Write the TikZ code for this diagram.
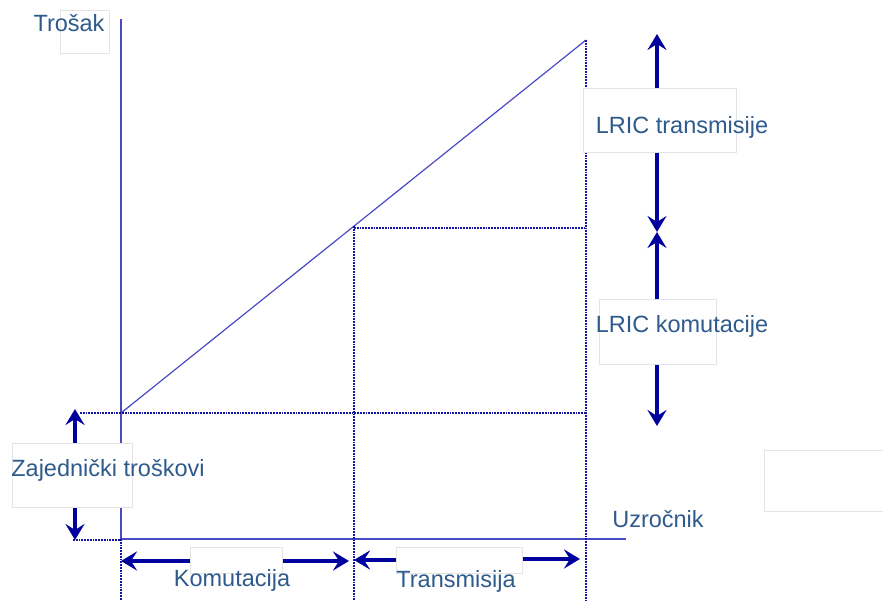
\documentclass[tikz,border=0pt]{standalone}
\usepackage{fontspec}
\setmainfont{Liberation Sans}
\usetikzlibrary{arrows.meta}
\definecolor{axisblue}{HTML}{4A4AC4}
\definecolor{dotblue}{HTML}{1414A4}
\definecolor{arrblue}{HTML}{00009C}
\definecolor{txtblue}{HTML}{2E5A8C}
\definecolor{boxgray}{HTML}{E4E4E4}
\tikzset{
  axisline/.style={axisblue, line width=1.2pt},
  dotline/.style={dotblue, line width=1.8pt, dash pattern=on 1.8pt off 1pt},
  bigarrow/.style={arrblue, line width=3.6pt, -{Stealth[length=16pt,width=19pt,inset=6pt]}},
  labelbox/.style={draw=boxgray, fill=white, line width=0.6pt, inner sep=0pt, anchor=north west},
  lbl/.style={txtblue, font=\fontsize{23.5}{27}\selectfont, inner sep=0pt, anchor=center}
}
\begin{document}
\begin{tikzpicture}[x=1pt,y=-1pt]
\useasboundingbox (0,0) rectangle (883,601);
% key coordinates
\coordinate (ytop) at (121,19);
\coordinate (orig) at (121,539);
\coordinate (xend) at (626,539);
\coordinate (fix) at (121,413);
\coordinate (mid) at (354,226);
\coordinate (top) at (586,40);
% axes
\draw[axisline] (ytop) -- (orig) -- (xend);
\draw[axisline] (fix) -- (top);
% dotted guides
\draw[dotline] (top) -- (586,601);
\draw[dotline] (mid) -- (354,601);
\draw[dotline] (354,228) -- (586,228);
\draw[dotline] (80,413) -- (586,413);
\draw[dotline] (73,540) -- (121,540);
\draw[dotline] (orig) -- (121,601);
% label boxes
\node[labelbox, minimum width=49pt, minimum height=43pt] (bTro) at (60,10) {};
\node[labelbox, minimum width=120pt, minimum height=64pt] (bZaj) at (12,443) {};
\node[labelbox, minimum width=153pt, minimum height=64pt] (bTrans) at (583,88) {};
\node[labelbox, minimum width=117pt, minimum height=65pt] (bKom) at (599,299) {};
\node[labelbox, minimum width=130pt, minimum height=61pt] (bEmpty) at (764,450) {};
\node[labelbox, minimum width=92pt, minimum height=26pt] (bK) at (190,547) {};
\node[labelbox, minimum width=126pt, minimum height=26pt] (bT) at (396,547) {};
% arrow end points
\coordinate (zTop) at (75,409);
\coordinate (zBot) at (75,540);
\coordinate (kL) at (121,561);
\coordinate (kR) at (349,561);
\coordinate (tL) at (354,560);
\coordinate (tR) at (580,559);
\coordinate (rTop) at (657,34);
\coordinate (rMid) at (657,232);
\coordinate (rBot) at (657,426);
% arrows
\draw[bigarrow] (zTop |- bZaj.north) -- (zTop);
\draw[bigarrow] (zBot |- bZaj.south) -- (zBot);
\draw[bigarrow] (bK.west |- kL) -- (kL);
\draw[bigarrow] (bK.east |- kR) -- (kR);
\draw[bigarrow] (bT.west |- tL) -- (tL);
\draw[bigarrow] (bT.east |- tR) -- (tR);
\draw[bigarrow] (rTop |- bTrans.north) -- (rTop);
\draw[bigarrow] (rMid |- bTrans.south) -- (rMid);
\draw[bigarrow] (rMid |- bKom.north) -- (rMid);
\draw[bigarrow] (rBot |- bKom.south) -- (rBot);
% texts
\node[lbl] (tTro) at (69,23) {Trošak};
\node[lbl] (tZaj) at (108,470) {Zajednički troškovi};
\node[lbl] (tLT) at (682,127) {LRIC transmisije};
\node[lbl] (tLK) at (682,326) {LRIC komutacije};
\node[lbl] (tUz) at (658,519) {Uzročnik};
\node[lbl] (tKom) at (232,580) {Komutacija};
\node[lbl] (tTra) at (456,581) {Transmisija};
\end{tikzpicture}
\end{document}
